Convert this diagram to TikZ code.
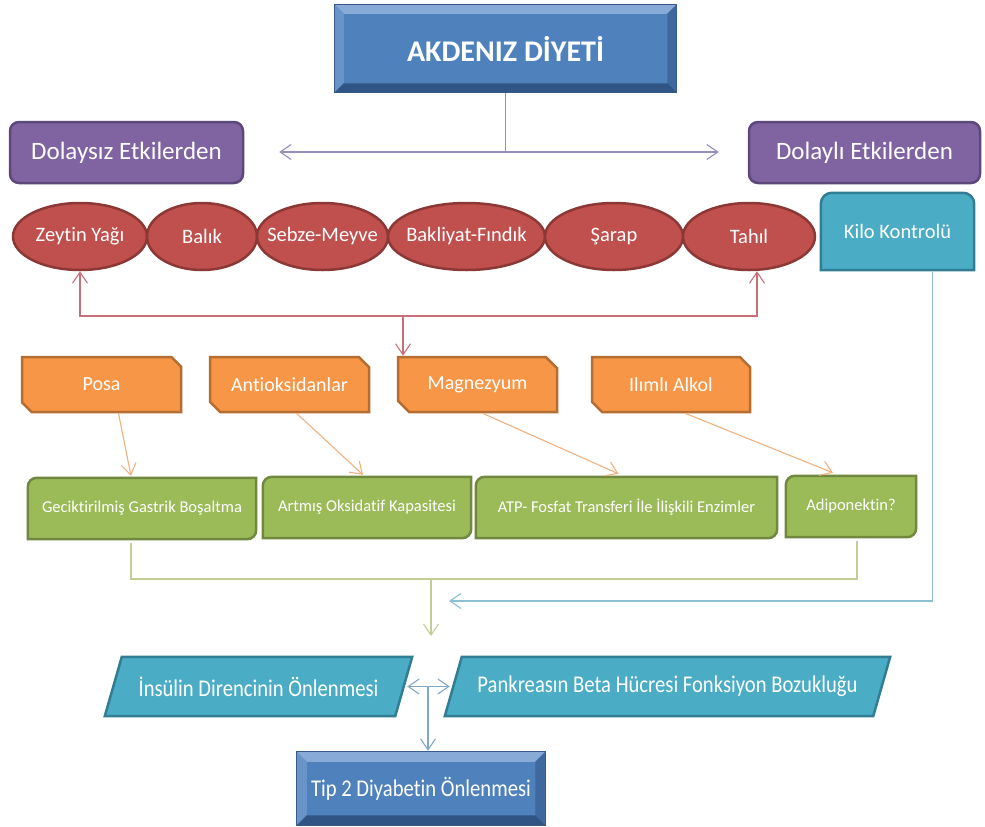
\documentclass[tikz,border=0pt]{standalone}
\usepackage{fontspec}
\setmainfont[Ligatures=NoCommon]{Carlito}
\newfontfamily\condfont[FakeStretch=0.86,Ligatures=NoCommon]{Carlito}
\usetikzlibrary{shapes.geometric,shapes.misc,arrows.meta,backgrounds,calc}
\definecolor{bface}{RGB}{79,129,189}
\definecolor{bborder}{RGB}{56,93,138}
\definecolor{btop}{RGB}{135,170,215}
\definecolor{bleft}{RGB}{105,148,202}
\definecolor{bright}{RGB}{62,104,158}
\definecolor{bbot}{RGB}{48,84,132}
\definecolor{pface}{RGB}{128,100,162}
\definecolor{pborder}{RGB}{92,72,122}
\definecolor{rface}{RGB}{192,80,77}
\definecolor{rborder}{RGB}{140,56,54}
\definecolor{tface}{RGB}{75,172,198}
\definecolor{tborder}{RGB}{49,125,147}
\definecolor{oface}{RGB}{247,150,70}
\definecolor{oborder}{RGB}{182,109,49}
\definecolor{gface}{RGB}{155,187,89}
\definecolor{gborder}{RGB}{113,137,63}
\definecolor{lpurple}{RGB}{150,140,190}
\definecolor{lred}{RGB}{200,110,120}
\definecolor{lorange}{RGB}{238,178,128}
\definecolor{lgreen}{RGB}{195,205,150}
\definecolor{lblue}{RGB}{140,190,212}
\definecolor{lsteel}{RGB}{130,168,200}
\newcommand\zw[1]{\makebox[0pt]{#1}}
\tikzset{
  bevelbox/.style={rectangle,draw=bborder,line width=2.5pt,fill=bface,text=white,inner sep=0pt},
  purplebox/.style={rectangle,rounded corners=9pt,draw=pborder,line width=2.5pt,fill=pface,text=white,inner sep=0pt,font=\fontsize{25}{27}\selectfont},
  foodell/.style={ellipse,draw=rborder,line width=2.5pt,fill=rface,text=white,inner sep=0pt,minimum height=67pt,font=\fontsize{20.5}{22}\selectfont},
  orangebox/.style={chamfered rectangle,chamfered rectangle corners={north east,south west},chamfered rectangle xsep=8pt,chamfered rectangle angle=45,draw=oborder,line width=2.5pt,fill=oface,text=white,inner sep=0pt,minimum height=55pt,font=\fontsize{20}{22}\selectfont},
  plainnode/.style={rectangle,draw=none,fill=none,inner sep=0pt,text=white},
  greenshape/.style={draw=gborder,line width=2.5pt,fill=gface},
  tealshape/.style={draw=tborder,line width=2.5pt,fill=tface},
  conn/.style={line width=1.1pt},
  tipend/.style={-{Straight Barb[length=11pt,width=15pt]}},
  tipboth/.style={{Straight Barb[length=11pt,width=15pt]}-{Straight Barb[length=11pt,width=15pt]}}
}
\newcommand\drawbevel[2]{%
  \fill[btop] ($(#1.north west)+(1.25,1.25)$) -- ($(#1.north east)+(-1.25,1.25)$) -- ($(#1.north east)+(-#2,#2)$) -- ($(#1.north west)+(#2,#2)$) -- cycle;
  \fill[bleft] ($(#1.north west)+(1.25,1.25)$) -- ($(#1.north west)+(#2,#2)$) -- ($(#1.south west)+(#2,-#2)$) -- ($(#1.south west)+(1.25,-1.25)$) -- cycle;
  \fill[bright] ($(#1.north east)+(-1.25,1.25)$) -- ($(#1.north east)+(-#2,#2)$) -- ($(#1.south east)+(-#2,-#2)$) -- ($(#1.south east)+(-1.25,-1.25)$) -- cycle;
  \fill[bbot] ($(#1.south west)+(1.25,-1.25)$) -- ($(#1.south west)+(#2,-#2)$) -- ($(#1.south east)+(-#2,-#2)$) -- ($(#1.south east)+(-1.25,-1.25)$) -- cycle;
}
\newcommand\greenfill[1]{%
  \draw[greenshape] (#1.south west) -- ([yshift=-9pt]#1.north west) arc[start angle=180,end angle=90,radius=9pt] -- (#1.north east) -- ([yshift=9pt]#1.south east) arc[start angle=0,end angle=-90,radius=9pt] -- cycle;
}
\newcommand\parafill[2]{%
  \draw[tealshape] (#1.south west) -- ([xshift=#2]#1.north west) -- (#1.north east) -- ([xshift=-#2]#1.south east) -- cycle;
}
\begin{document}
\begin{tikzpicture}[x=1pt,y=-1pt]
\useasboundingbox (0,0) rectangle (985,827);

% top
\node[bevelbox,minimum width=341pt,minimum height=87pt,font=\bfseries\fontsize{30}{32}\selectfont] (top) at (505.5,48.5) {AKDENIZ DİYETİ};
\drawbevel{top}{10}

\node[purplebox,minimum width=233pt,minimum height=61pt] (dz) at (126.5,152.5) {Dolaysız Etkilerden};
\node[purplebox,minimum width=231pt,minimum height=61pt] (dl) at (864.5,152.5) {Dolaylı Etkilerden};

% foods
\node[foodell,minimum width=134pt] (zey) at (80,236.5) {\zw{Zeytin Yağı}};
\node[foodell,minimum width=110pt] (bal) at (202,236.5) {\zw{Balık}};
\node[foodell,minimum width=131pt] (seb) at (322.5,236.5) {\zw{Sebze-Meyve}};
\node[foodell,minimum width=157pt] (bak) at (466.5,236.5) {\zw{Bakliyat-Fındık}};
\node[foodell,minimum width=138pt] (sar) at (614,236.5) {\zw{Şarap}};
\node[foodell,minimum width=132pt] (tah) at (749,236.5) {\zw{Tahıl}};

\node[plainnode,minimum width=153pt,minimum height=77pt,font=\fontsize{20.5}{22}\selectfont] (kilo) at (897.5,231.5) {\raisebox{-3pt}{Kilo Kontrolü}};

% orange
\node[orangebox,minimum width=159pt] (posa) at (101.5,384.5) {Posa};
\node[orangebox,minimum width=159pt] (anti) at (289.5,384.5) {Antioksidanlar};
\node[orangebox,minimum width=159pt] (mag) at (477.5,384.5) {Magnezyum};
\node[orangebox,minimum width=158pt] (alk) at (671,384.5) {Ilımlı Alkol};

% green
\node[plainnode,minimum width=228pt,minimum height=61pt,font=\fontsize{16.5}{18}\selectfont] (gec) at (142,508.5) {Geciktirilmiş Gastrik Boşaltma};
\node[plainnode,minimum width=208pt,minimum height=61pt,font=\fontsize{16.5}{18}\selectfont] (art) at (367,507.5) {Artmış Oksidatif Kapasitesi};
\node[plainnode,minimum width=301pt,minimum height=61pt,font=\fontsize{16.5}{18}\selectfont] (atp) at (626.5,507.5) {ATP- Fosfat Transferi İle İlişkili Enzimler};
\node[plainnode,minimum width=130pt,minimum height=61pt,font=\fontsize{16.5}{18}\selectfont] (adi) at (851,506.5) {Adiponektin?};

% bottom
\node[plainnode,minimum width=307pt,minimum height=59pt,font=\condfont\fontsize{24}{26}\selectfont] (ins) at (258.5,686.5) {İnsülin Direncinin Önlenmesi};
\node[plainnode,minimum width=445pt,minimum height=59pt,font=\condfont\fontsize{24}{26}\selectfont] (pan) at (667.5,686.5) {Pankreasın Beta Hücresi Fonksiyon Bozukluğu};
\node[bevelbox,minimum width=248pt,minimum height=73pt,font=\condfont\fontsize{24}{26}\selectfont] (tip) at (421,788.5) {Tip 2 Diyabetin Önlenmesi};
\drawbevel{tip}{11}

\begin{scope}[on background layer]
  \fill[white] (0,0) rectangle (985,827);
  \draw[tealshape] (kilo.south west) -- ([yshift=-11pt]kilo.north west) arc[start angle=180,end angle=90,radius=11pt] -- ([xshift=-11pt]kilo.north east) arc[start angle=90,end angle=0,radius=11pt] -- (kilo.south east) -- cycle;
  \greenfill{gec}
  \greenfill{art}
  \greenfill{atp}
  \greenfill{adi}
  \parafill{ins}{17pt}
  \parafill{pan}{17pt}
\end{scope}

% connectors
\coordinate (tj) at (505.5,152);
\draw[conn,lpurple] (top.south) -- (tj);
\draw[conn,lpurple,tipend] (tj) -- ([xshift=35pt]dz.east |- tj);
\draw[conn,lpurple,tipend] (tj) -- ([xshift=-29pt]dl.west |- tj);

\coordinate (rm) at (403,316);
\coordinate (rr) at (757,316);
\draw[conn,lred,tipboth] (zey.south) |- (rr) -- (rr |- tah.south);
\draw[conn,lred,tipend] (rm) -- (rm |- mag.north);

\draw[conn,lorange,tipend] ([xshift=17pt]posa.south) -- ([xshift=-11pt,yshift=2pt]gec.north);
\draw[conn,lorange,tipend] ([xshift=7pt]anti.south) -- ([xshift=-4pt,yshift=2pt]art.north);
\draw[conn,lorange,tipend] ([xshift=5pt]mag.south) -- ([xshift=-8pt,yshift=3pt]atp.north);
\draw[conn,lorange,tipend] ([xshift=14pt]alk.south) -- ([xshift=-18pt,yshift=3pt]adi.north);

\coordinate (gm) at (431,579);
\coordinate (ga) at (431,636);
\draw[conn,lgreen] ([xshift=-11pt,yshift=-4pt]gec.south) |- (gm) -| ([xshift=6pt,yshift=-4pt]adi.south);
\draw[conn,lgreen,tipend] (gm) -- (ga);

\coordinate (ba) at (449,601);
\draw[conn,lblue,tipend] ([xshift=35pt,yshift=-2pt]kilo.south) |- (ba);

\coordinate (bj) at (428,686.5);
\draw[conn,lsteel,tipboth] ([xshift=-5pt]ins.east) -- ([xshift=5pt]pan.west);
\draw[conn,lsteel,tipend] (bj) -- (bj |- tip.north);
\end{tikzpicture}
\end{document}
